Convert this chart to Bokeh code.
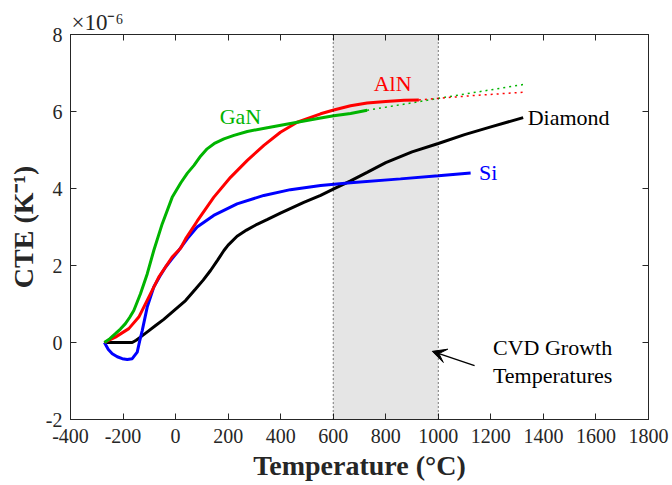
from bokeh.plotting import figure
from bokeh.models import (LinearAxis, Range1d, BoxAnnotation, Span, Label,
                          Arrow, VeeHead, FixedTicker)
from bokeh.embed import file_html
from bokeh.resources import INLINE

# ---------------- data (CTE in units of 1e-6 / K) ----------------
gan_T = [-271, -250, -229, -210, -191, -175, -159, -134, -108, -83, -51, -13,
         20, 45, 70, 95, 120, 150, 184, 222, 273, 349, 463, 552, 602, 666, 729]
gan_cte = [0.0, 0.1, 0.23, 0.35, 0.49, 0.65, 0.83, 1.26, 1.78, 2.39, 3.08,
           3.77, 4.15, 4.4, 4.6, 4.84, 5.03, 5.18, 5.29, 5.38, 5.48, 5.58,
           5.72, 5.83, 5.89, 5.95, 6.03]
gan_ext_T = [729, 1026, 1323]
gan_ext_cte = [6.03, 6.37, 6.70]

aln_T = [-271, -229, -178, -140, -102, -64, -13, 19, 38, 82, 145, 209, 273,
         336, 399, 463, 552, 602, 666, 729, 800, 870, 926]
aln_cte = [0.0, 0.14, 0.36, 0.66, 1.18, 1.70, 2.22, 2.45, 2.69, 3.15, 3.77,
           4.29, 4.73, 5.12, 5.46, 5.72, 5.94, 6.04, 6.15, 6.22, 6.26, 6.29,
           6.30]
aln_ext_T = [926, 1125, 1323]
aln_ext_cte = [6.30, 6.41, 6.50]

si_T = [-271, -256, -241, -222, -203, -184, -165, -146, -137, -127, -108, -83,
        -60, -38, -13, 12, 45, 82, 145, 234, 336, 437, 552, 666, 856, 1000,
        1123]
si_cte = [0.0, -0.18, -0.29, -0.37, -0.42, -0.44, -0.42, -0.25, 0.03, 0.31,
          0.92, 1.44, 1.72, 1.96, 2.18, 2.39, 2.7, 3.0, 3.30, 3.60, 3.82, 3.97,
          4.08, 4.15, 4.25, 4.33, 4.40]

dia_T = [-271, -200, -165, -150, -134, -105, -76, -45, -13, 38, 76, 105, 133,
         160, 184, 200, 234, 270, 310, 350, 399, 488, 552, 602, 666, 729, 800,
         900, 1000, 1100, 1200, 1323]
dia_cte = [0.0, 0.0, 0.0, 0.06, 0.14, 0.29, 0.44, 0.6, 0.79, 1.09, 1.39, 1.62,
           1.87, 2.14, 2.39, 2.53, 2.76, 2.92, 3.07, 3.2, 3.36, 3.64, 3.82,
           3.99, 4.2, 4.42, 4.67, 4.95, 5.17, 5.40, 5.60, 5.84]

x_ticks = [-400, -200, 0, 200, 400, 600, 800, 1000, 1200, 1400, 1600, 1800]
y_ticks = [-2, 0, 2, 4, 6, 8]
cvd_range = [600, 1000]

FONT = '"Liberation Serif", serif'
AX = "#262626"
GREEN = "#00b400"

p = figure(width=672, height=485, x_range=Range1d(-400, 1800),
           y_range=Range1d(-2, 8), output_backend="svg", toolbar_location=None,
           min_border_left=70, min_border_right=24, min_border_top=34,
           min_border_bottom=66, title="×10⁻⁶")
p.title.align = "left"
p.title.text_font = FONT
p.title.text_font_style = "normal"
p.title.text_font_size = "23px"
p.title.text_color = AX
p.title.standoff = 0
p.title.offset = 1
p.grid.visible = False
p.outline_line_color = AX
p.background_fill_color = "white"
p.border_fill_color = "white"

# shaded CVD region
p.add_layout(BoxAnnotation(left=cvd_range[0], right=cvd_range[1],
                           fill_color="#e5e5e5", fill_alpha=1.0,
                           line_color=None, level="underlay"))
for xv in cvd_range:
    p.add_layout(Span(location=xv, dimension="height", line_color="black",
                      line_width=1, line_dash="1 3"))

# curves
p.line(gan_ext_T, gan_ext_cte, line_color=GREEN, line_width=1.5, line_dash="2 4")
p.line(aln_ext_T, aln_ext_cte, line_color="red", line_width=1.5, line_dash="2 4")
p.line(dia_T, dia_cte, line_color="black", line_width=3)
p.line(si_T, si_cte, line_color="blue", line_width=3)
p.line(aln_T, aln_cte, line_color="red", line_width=3)
p.line(gan_T, gan_cte, line_color=GREEN, line_width=3)

# axes styling
def style_axis(ax, ticks, labels=True):
    ax.ticker = FixedTicker(ticks=ticks)
    ax.axis_line_color = AX
    ax.major_tick_line_color = AX
    ax.major_tick_in = 6
    ax.major_tick_out = 0
    ax.minor_tick_line_color = None
    ax.major_label_text_font = FONT
    ax.major_label_text_color = AX
    ax.major_label_text_font_size = "20px"
    if labels:
        ax.major_label_overrides = {t: str(t) for t in ticks}
    else:
        ax.major_label_overrides = {t: "" for t in ticks}
        ax.major_label_standoff = 0

style_axis(p.xaxis[0], x_ticks)
style_axis(p.yaxis[0], y_ticks)
p.xaxis[0].major_label_standoff = 9
p.yaxis[0].major_label_standoff = 8
p.xaxis[0].axis_label = "Temperature (°C)"
p.yaxis[0].axis_label = "CTE (K⁻¹)"
for ax in (p.xaxis[0], p.yaxis[0]):
    ax.axis_label_text_font = FONT
    ax.axis_label_text_font_style = "bold"
    ax.axis_label_text_font_size = "28px"
    ax.axis_label_text_color = AX
    ax.axis_label_standoff = 4

top = LinearAxis()
style_axis(top, x_ticks, labels=False)
p.add_layout(top, "above")
right = LinearAxis()
style_axis(right, y_ticks, labels=False)
p.add_layout(right, "right")

# labels
def lab(x, y, text, color, align="center"):
    p.add_layout(Label(x=x, y=y, text=text, text_color=color,
                       text_font=FONT, text_font_size="22px",
                       text_align=align, text_baseline="middle"))

lab(247, 5.86, "GaN", GREEN)
lab(826, 6.73, "AlN", "red")
lab(1340, 5.84, "Diamond", "black", "left")
lab(1155, 4.42, "Si", "blue", "left")
lab(1435, -0.13, "CVD Growth", "black")
lab(1435, -0.86, "Temperatures", "black")

p.add_layout(Arrow(x_start=1138, y_start=-0.6, x_end=977, y_end=-0.23,
                   line_color="black", line_width=1.5,
                   end=VeeHead(size=14, fill_color="black", line_color="black")))

open("out.html", "w").write(file_html(p, INLINE))
